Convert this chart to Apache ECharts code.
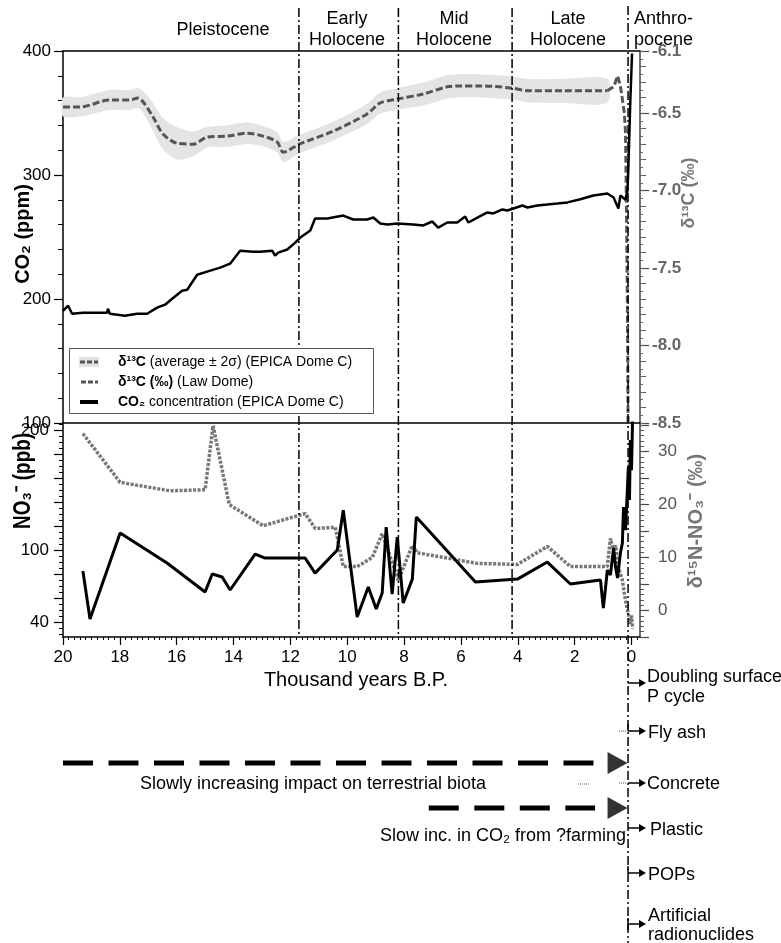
<!DOCTYPE html>
<html>
<head>
<meta charset="utf-8">
<script src="https://cdn.jsdelivr.net/npm/echarts@6.0.0/dist/echarts.min.js"></script>
<style>
html, body { margin: 0; padding: 0; background: #fff; }
#chart { width: 781px; height: 943px; }
</style>
</head>
<body>
<div id="chart"></div>
<script>
// ages are thousand years B.P. (negative = after 1950)

// CO2 concentration, EPICA Dome C (ppm)
var co2Age = [20.0, 19.82, 19.68, 19.3, 18.45, 18.42, 18.35, 17.82, 17.39, 17.04, 16.69, 16.41, 16.16, 15.81, 15.63,
  15.28, 14.93, 14.47, 14.12, 13.77, 13.31, 13.06, 12.64, 12.54, 12.43, 12.11, 11.83, 11.65, 11.3, 11.13,
  10.7, 10.14, 9.79, 9.3, 9.08, 8.84, 8.59, 8.24, 7.68, 7.32, 7.01, 6.8, 6.48, 6.13, 5.85,
  5.74, 5.42, 5.07, 4.86, 4.54, 4.37, 4.15, 3.84, 3.66, 3.31, 2.96, 2.61, 2.25, 1.8, 1.34,
  0.85, 0.63, 0.46, 0.39, 0.21, 0.14, 0.11, 0.04, -0.02];
var co2Ppm = [190.5, 194.6, 188.1, 188.9, 188.9, 192.2, 188.1, 186.5, 188.1, 188.1, 193.0, 195.4, 200.2, 206.7, 207.5,
  219.6, 222.1, 225.3, 228.5, 239.0, 238.2, 238.2, 239.0, 235.0, 237.4, 239.9, 245.5, 249.6, 255.2, 264.9,
  264.9, 267.3, 264.1, 264.1, 265.7, 260.9, 260.0, 260.9, 260.0, 259.3, 262.5, 257.6, 261.7, 261.7, 266.5,
  261.7, 265.7, 269.8, 269.0, 272.2, 271.4, 273.0, 275.4, 273.8, 275.4, 276.2, 277.0, 277.9, 280.5, 283.5,
  285.1, 281.9, 273.0, 283.5, 280.0, 287.6, 306.0, 360.0, 398.0];

// d13C, EPICA Dome C (permil) with 2 sigma half width
var d13cAge = [20.0, 19.4, 18.35, 17.64, 17.36, 17.18, 16.83, 16.48, 15.99, 15.42, 14.93, 14.22, 13.52, 12.96,
  12.46, 12.25, 11.69, 10.49, 9.3, 8.84, 8.24, 7.32, 6.48, 6.02, 5.32, 4.26, 3.56, 2.39, 0.85];
var d13cMean = [-6.461, -6.461, -6.416, -6.416, -6.403, -6.429, -6.526, -6.636, -6.695, -6.701, -6.656, -6.649, -6.63, -6.649,
  -6.688, -6.753, -6.701, -6.617, -6.506, -6.435, -6.41, -6.377, -6.331, -6.325, -6.325, -6.338, -6.357, -6.357, -6.357];
var d13cTwoSigma = [0.062, 0.062, 0.065, 0.065, 0.065, 0.07, 0.09, 0.1, 0.105, 0.08, 0.065, 0.07, 0.07, 0.065,
  0.065, 0.065, 0.06, 0.06, 0.065, 0.068, 0.07, 0.075, 0.075, 0.075, 0.075, 0.075, 0.075, 0.078, 0.078];

// d13C, Law Dome (permil)
var lawAge = [0.85, 0.62, 0.49, 0.39, 0.25, 0.21, 0.18, 0.14, 0.12];
var lawD13c = [-6.357, -6.33, -6.26, -6.325, -6.5, -6.623, -7.058, -7.8, -8.5];

// nitrate concentration (ppb)
var no3Age = [19.3, 19.05, 17.99, 16.34, 15.0, 14.75, 14.4, 14.12, 13.24, 12.89, 11.48, 11.13, 10.35, 10.14, 9.65,
  9.26, 8.98, 8.77, 8.63, 8.42, 8.24, 8.03, 7.71, 7.57, 5.49, 4.01, 2.96, 2.15, 1.09, 0.99,
  0.92, 0.85, 0.74, 0.63, 0.56, 0.49, 0.39, 0.32, 0.28, 0.21, 0.14, 0.11, 0.07, 0.04, 0.0, -0.04];
var no3Ppb = [82.5, 42.5, 114.2, 89.2, 65.0, 80.0, 77.5, 66.7, 96.7, 93.3, 93.3, 80.8, 100.0, 133.3, 44.2,
  69.2, 50.8, 64.2, 119.2, 63.3, 110.8, 55.8, 75.8, 127.5, 73.3, 75.8, 90.0, 71.7, 75.0, 51.7,
  66.7, 83.3, 79.2, 101.7, 85.8, 76.7, 97.5, 105.8, 135.8, 116.7, 152.5, 169.2, 141.7, 191.7, 166.7, 210.0];

// d15N of nitrate (permil)
var n15Age = [19.3, 17.99, 16.23, 15.0, 14.72, 14.15, 12.96, 11.48, 11.13, 10.42, 10.14, 9.65, 9.12, 8.77, 8.2,
  7.71, 7.54, 5.42, 4.01, 2.96, 2.15, 0.85, 0.74, 0.63, 0.56, 0.46, 0.32, 0.21, 0.11, 0.04, 0.0, -0.04];
var n15Val = [33.4, 24.2, 22.6, 22.8, 34.9, 20.0, 16.0, 18.3, 15.5, 15.7, 8.3, 8.3, 10.0, 14.5, 5.7,
  12.3, 10.9, 8.9, 8.7, 12.1, 8.3, 8.3, 13.6, 11.3, 12.3, 8.1, 5.7, 1.9, -0.6, -2.5, -0.9, -3.4];

// period boundaries
var boundaries = [11.7, 8.2, 4.2];
var anthropoceneStart = 0.12;

// impact arrows (start / end of the dashed span, ka)
var arrowStart = [20, 7.13];
var arrowEnd = [1.28, 1.28];

// tick labels
var xTicks = [0, 2, 4, 6, 8, 10, 12, 14, 16, 18, 20];
var d13cLabels = [-8.5, -8.0, -7.5, -7.0, -6.5, -6.1];
var no3Labels = [40, 100, 200];
var n15Labels = [0, 10, 20, 30];

var FONT = '"Liberation Sans", Arial, sans-serif';

function pairs(xs, ys) {
  return xs.map(function (x, i) { return [x, ys[i]]; });
}
function steps(a, b, step) {
  var n = Math.round((b - a) / step), out = [];
  for (var i = 0; i <= n; i++) out.push(+(a + i * step).toFixed(4));
  return out;
}

var chart = echarts.init(document.getElementById('chart'));

var xBase = { type: 'value', min: -0.3, max: 20, inverse: true, splitLine: { show: false } };
function xAx(o) {
  var a = Object.assign({}, xBase, o);
  a.axisLine = Object.assign({ onZero: false }, o.axisLine || {});
  return a;
}

function yTicksOnly(grid, pos, min, max, vals, len, color) {
  return {
    type: 'value', gridIndex: grid, position: pos, offset: 0, min: min, max: max,
    axisLine: { show: false, onZero: false }, splitLine: { show: false }, axisLabel: { show: false },
    axisTick: { show: true, customValues: vals, length: len, lineStyle: { color: color, width: 1 } }
  };
}

// overlay series: period boundaries + dashed arrows
var overlay = [];
boundaries.forEach(function (b) {
  overlay.push({
    type: 'line', xAxisIndex: 4, yAxisIndex: 8, data: [[b, 8], [b, 637]], symbol: 'none', silent: true, z: 3,
    lineStyle: { color: '#000', width: 1.5, type: [9, 3, 2, 3] }
  });
});
overlay.push({
  type: 'line', xAxisIndex: 4, yAxisIndex: 8, data: [[anthropoceneStart, 6], [anthropoceneStart, 943]],
  symbol: 'none', silent: true, z: 3, lineStyle: { color: '#000', width: 1.5, type: [9, 3, 2, 3] }
});
var arrowRows = [763, 808];
arrowStart.forEach(function (s, i) {
  overlay.push({
    type: 'line', xAxisIndex: 4, yAxisIndex: 8, data: [[s, arrowRows[i]], [arrowEnd[i], arrowRows[i]]],
    symbol: 'none', silent: true, lineStyle: { color: '#000', width: 5, type: [30, 15.5] }
  });
});
overlay.push({
  type: 'scatter', xAxisIndex: 4, yAxisIndex: 8, silent: true,
  data: arrowRows.map(function (r) { return [0.49, r]; }),
  symbol: 'triangle', symbolSize: [22, 20], symbolRotate: -90,
  itemStyle: { color: '#000' }
});

function txt(x, y, s, o) {
  o = o || {};
  return {
    type: 'text', x: x, y: y, rotation: o.rot || 0, scaleX: o.sx || 1, silent: true, z: 50,
    style: {
      text: s, fill: o.color || '#000', fontSize: o.size || 18, fontWeight: o.weight || 'normal',
      fontFamily: FONT, align: o.align || 'center', verticalAlign: 'middle'
    }
  };
}
function hline(x1, x2, y, o) {
  o = o || {};
  return { type: 'line', silent: true, z: 50, shape: { x1: x1, y1: y, x2: x2, y2: y },
    style: { stroke: o.color || '#000', lineWidth: o.width || 1.5, lineDash: o.dash } };
}
function smallArrow(y, kind) {
  var els = [
    hline(628, 640, y),
    { type: 'polygon', silent: true, z: 50, shape: { points: [[639, y - 4], [646, y], [639, y + 4]] }, style: { fill: '#000' } }
  ];
  if (kind === 'hook') els.push({ type: 'line', silent: true, z: 50, shape: { x1: 628, y1: y - 7, x2: 628, y2: y }, style: { stroke: '#000', lineWidth: 1.5 } });
  if (kind === 'bar') els.push({ type: 'line', silent: true, z: 50, shape: { x1: 628, y1: y - 6, x2: 628, y2: y + 6 }, style: { stroke: '#000', lineWidth: 1.5 } });
  return els;
}

var legendRich = { b: { fontWeight: 'bold', fontSize: 14, fontFamily: FONT, fill: '#000' } };
var legendGroup = {
  type: 'group', z: 100,
  children: [
    { type: 'rect', z: 100, shape: { x: 69.5, y: 348.5, width: 304, height: 65 }, style: { fill: '#fff', stroke: '#555', lineWidth: 1 } },
    { type: 'rect', z: 101, shape: { x: 79, y: 357, width: 20, height: 10 }, style: { fill: '#e2e2e2' } },
    { type: 'line', z: 101, shape: { x1: 80, y1: 362, x2: 98, y2: 362 }, style: { stroke: '#555', lineWidth: 3, lineDash: [5, 2] } },
    { type: 'line', z: 101, shape: { x1: 81, y1: 382, x2: 98, y2: 382 }, style: { stroke: '#555', lineWidth: 3, lineDash: [5, 2] } },
    { type: 'line', z: 101, shape: { x1: 80, y1: 402, x2: 98, y2: 402 }, style: { stroke: '#000', lineWidth: 4 } },
    { type: 'text', z: 101, x: 118, y: 362, style: { text: '{b|δ¹³C} (average ± 2σ) (EPICA Dome C)', fontSize: 14, fontFamily: FONT, fill: '#000', verticalAlign: 'middle', rich: legendRich } },
    { type: 'text', z: 101, x: 118, y: 382, style: { text: '{b|δ¹³C (‰)} (Law Dome)', fontSize: 14, fontFamily: FONT, fill: '#000', verticalAlign: 'middle', rich: legendRich } },
    { type: 'text', z: 101, x: 118, y: 402, style: { text: '{b|CO₂} concentration (EPICA Dome C)', fontSize: 14, fontFamily: FONT, fill: '#000', verticalAlign: 'middle', rich: legendRich } }
  ]
};

var graphics = [
  txt(223, 30, 'Pleistocene'),
  txt(347, 19, 'Early'), txt(347, 40, 'Holocene'),
  txt(454, 19, 'Mid'), txt(454, 40, 'Holocene'),
  txt(568, 19, 'Late'), txt(568, 40, 'Holocene'),
  txt(634, 19, 'Anthro-', { align: 'left' }), txt(634, 40, 'pocene', { align: 'left' }),
  txt(23, 234, 'CO₂ (ppm)', { rot: Math.PI / 2, size: 21, weight: 'bold', sx: 0.95 }),
  txt(24, 481, 'NO₃⁻ (ppb)', { rot: Math.PI / 2, size: 23, weight: 'bold', sx: 0.82 }),
  txt(689, 193, 'δ¹³C (‰)', { rot: Math.PI / 2, size: 18, weight: 'bold', color: '#777' }),
  txt(696, 521, 'δ¹⁵N-NO₃⁻ (‰)', { rot: Math.PI / 2, size: 20, weight: 'bold', color: '#777' }),
  txt(356, 680, 'Thousand years B.P.', { size: 20 }),
  txt(313, 784, 'Slowly increasing impact on terrestrial biota'),
  txt(626, 836, 'Slow inc. in CO₂ from ?farming', { align: 'right' }),
  hline(578, 590, 784, { color: '#555', width: 1, dash: [1, 1] }),
  hline(619, 627, 731, { color: '#555', width: 1, dash: [1, 1] }),
  hline(619, 627, 783, { color: '#555', width: 1, dash: [1, 1] }),
  txt(647, 677, 'Doubling surface', { align: 'left' }),
  txt(647, 697, 'P cycle', { align: 'left' }),
  txt(648, 733, 'Fly ash', { align: 'left' }),
  txt(647, 784, 'Concrete', { align: 'left' }),
  txt(650, 830, 'Plastic', { align: 'left' }),
  txt(648, 875, 'POPs', { align: 'left' }),
  txt(648, 916, 'Artificial', { align: 'left' }),
  txt(648, 935, 'radionuclides', { align: 'left' }),
  legendGroup
].concat(smallArrow(683), smallArrow(731, 'hook'), smallArrow(783), smallArrow(828), smallArrow(873, 'hook'), smallArrow(924, 'bar'));

// shaded 2 sigma band around the EPICA d13C curve
function renderBand(params, api) {
  if (params.dataIndex !== 0) return null;
  var upper = d13cAge.map(function (t, i) { return api.coord([t, d13cMean[i] + d13cTwoSigma[i]]); });
  var lower = d13cAge.map(function (t, i) { return api.coord([t, d13cMean[i] - d13cTwoSigma[i]]); }).reverse();
  return {
    type: 'polygon',
    shape: { points: upper.concat(lower), smooth: 0.25 },
    style: { fill: '#e4e4e4', stroke: null }
  };
}

var option = {
  animation: false,
  backgroundColor: '#fff',
  textStyle: { fontFamily: FONT },
  grid: [
    { left: 63, right: 141, top: 51, height: 372, outerBoundsMode: 'none' },
    { left: 63, right: 141, top: 423, height: 214, outerBoundsMode: 'none' },
    { left: 63, right: 141, top: 0, height: 943, outerBoundsMode: 'none' }
  ],
  xAxis: [
    xAx({ gridIndex: 0, position: 'top', axisLine: { lineStyle: { color: '#000', width: 1.5 } }, axisTick: { show: false }, axisLabel: { show: false } }),
    xAx({ gridIndex: 1, position: 'bottom', axisLine: { lineStyle: { color: '#000', width: 1.5 } },
      axisTick: { show: true, customValues: xTicks, length: 8, lineStyle: { color: '#000', width: 1.2 } },
      axisLabel: { customValues: xTicks, fontSize: 17, color: '#000', margin: 12, fontFamily: FONT } }),
    xAx({ gridIndex: 1, position: 'bottom', offset: 0, axisLine: { show: false }, axisLabel: { show: false },
      axisTick: { show: true, customValues: steps(-0.2, 20, 0.2), length: 3, lineStyle: { color: '#000', width: 1 } } }),
    xAx({ gridIndex: 1, position: 'top', axisLine: { lineStyle: { color: '#000', width: 1.5 } }, axisTick: { show: false }, axisLabel: { show: false } }),
    xAx({ gridIndex: 2, show: false })
  ],
  yAxis: [
    { type: 'value', gridIndex: 0, position: 'left', min: 100, max: 400, interval: 100,
      axisLine: { show: true, onZero: false, lineStyle: { color: '#000', width: 1.5 } },
      axisTick: { show: true, length: 9, lineStyle: { color: '#000', width: 1.2 } },
      minorTick: { show: true, splitNumber: 5, length: 5, lineStyle: { color: '#000', width: 1 } },
      axisLabel: { fontSize: 17, color: '#000', margin: 12, fontFamily: FONT },
      splitLine: { show: false } },
    { type: 'value', gridIndex: 0, position: 'right', min: -8.5, max: -6.1,
      axisLine: { show: true, onZero: false, lineStyle: { color: '#444', width: 1.5 } },
      axisTick: { show: true, customValues: d13cLabels, length: 9, lineStyle: { color: '#444', width: 1.2 } },
      axisLabel: { customValues: d13cLabels, formatter: function (v) { return v.toFixed(1); },
        fontSize: 17, fontWeight: 'bold', color: '#666', margin: 12, fontFamily: FONT },
      splitLine: { show: false } },
    yTicksOnly(0, 'right', -8.5, -6.1, steps(-8.5, -6.1, 0.1), 6, '#555'),
    yTicksOnly(0, 'right', -8.5, -6.1, steps(-8.5, -6.1, 0.05), 3, '#666'),
    { type: 'value', gridIndex: 1, position: 'left', min: 27.5, max: 206,
      axisLine: { show: true, onZero: false, lineStyle: { color: '#000', width: 1.5 } },
      axisTick: { show: true, customValues: steps(40, 200, 20), length: 9, lineStyle: { color: '#000', width: 1.2 } },
      axisLabel: { customValues: no3Labels, fontSize: 17, color: '#000', margin: 14, fontFamily: FONT },
      splitLine: { show: false } },
    yTicksOnly(1, 'left', 27.5, 206, steps(30, 205, 5), 4, '#000'),
    { type: 'value', gridIndex: 1, position: 'right', min: -5, max: 35.4,
      axisLine: { show: true, onZero: false, lineStyle: { color: '#444', width: 1.5 } },
      axisTick: { show: true, customValues: steps(-5, 35, 5), length: 9, lineStyle: { color: '#444', width: 1.2 } },
      axisLabel: { customValues: n15Labels, fontSize: 17, color: '#555', margin: 18, fontFamily: FONT },
      splitLine: { show: false } },
    yTicksOnly(1, 'right', -5, 35.4, steps(-5, 35, 1), 4, '#555'),
    { type: 'value', gridIndex: 2, min: 0, max: 943, inverse: true, show: false }
  ],
  graphic: graphics,
  series: [
    { name: 'band', type: 'custom', xAxisIndex: 0, yAxisIndex: 1, silent: true, z: 1,
      data: pairs(d13cAge, d13cMean), renderItem: renderBand },
    { name: 'd13C EPICA', type: 'line', xAxisIndex: 0, yAxisIndex: 1, data: pairs(d13cAge, d13cMean),
      symbol: 'none', smooth: 0.3, lineStyle: { color: '#555', width: 3, type: [7, 3] } },
    { name: 'd13C Law Dome', type: 'line', xAxisIndex: 0, yAxisIndex: 1, data: pairs(lawAge, lawD13c),
      symbol: 'none', lineStyle: { color: '#555', width: 3, type: [7, 3] } },
    { name: 'CO2', type: 'line', xAxisIndex: 0, yAxisIndex: 0, data: pairs(co2Age, co2Ppm),
      symbol: 'none', lineStyle: { color: '#000', width: 2.5 } },
    { name: 'd15N', type: 'line', xAxisIndex: 1, yAxisIndex: 6, data: pairs(n15Age, n15Val),
      symbol: 'none', lineStyle: { color: '#777', width: 3.5, type: [3, 1.5] } },
    { name: 'NO3', type: 'line', xAxisIndex: 1, yAxisIndex: 4, data: pairs(no3Age, no3Ppb),
      symbol: 'none', lineStyle: { color: '#000', width: 3 } }
  ].concat(overlay)
};

chart.setOption(option);
</script>
</body>
</html>
